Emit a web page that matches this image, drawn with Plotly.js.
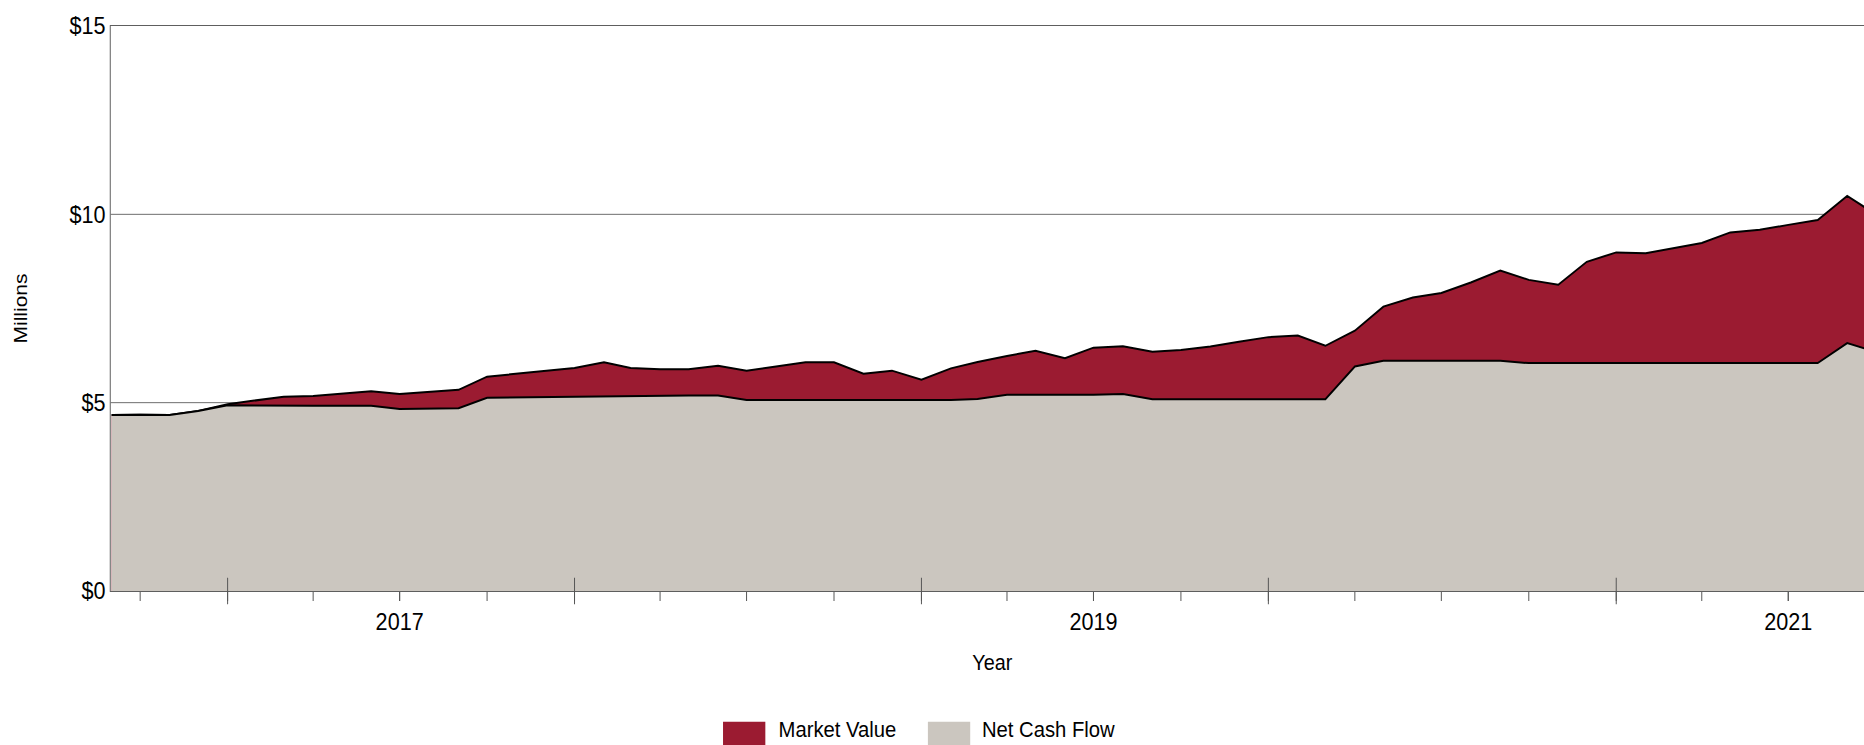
<!DOCTYPE html>
<html><head><meta charset="utf-8">
<script src="https://cdn.plot.ly/plotly-3.0.1.min.js"></script>
<style>
html,body{margin:0;padding:0;overflow:hidden;background:#fff;width:1864px;height:745px}
#chart{width:2082px;height:745px;transform:scaleX(0.9);transform-origin:0 0;}
</style></head><body><div id="chart"></div><script>
const months = [
 '2016-09-01','2016-10-01','2016-11-01','2016-12-01',
 '2017-01-01','2017-02-01','2017-03-01','2017-04-01','2017-05-01','2017-06-01','2017-07-01','2017-08-01','2017-09-01','2017-10-01','2017-11-01','2017-12-01',
 '2018-01-01','2018-02-01','2018-03-01','2018-04-01','2018-05-01','2018-06-01','2018-07-01','2018-08-01','2018-09-01','2018-10-01','2018-11-01','2018-12-01',
 '2019-01-01','2019-02-01','2019-03-01','2019-04-01','2019-05-01','2019-06-01','2019-07-01','2019-08-01','2019-09-01','2019-10-01','2019-11-01','2019-12-01',
 '2020-01-01','2020-02-01','2020-03-01','2020-04-01','2020-05-01','2020-06-01','2020-07-01','2020-08-01','2020-09-01','2020-10-01','2020-11-01','2020-12-01',
 '2021-01-01','2021-02-01','2021-03-01','2021-04-01','2021-05-01','2021-06-01','2021-07-01','2021-08-01','2021-09-01','2021-10-01'
];
const marketValue = [
 4.67,4.68,4.67,4.78,
 4.96,5.07,5.16,5.18,5.23,5.30,5.23,5.29,5.34,5.69,5.77,5.85,
 5.92,6.07,5.92,5.89,5.89,5.98,5.85,5.96,6.07,6.07,5.77,5.85,
 5.61,5.91,6.08,6.24,6.38,6.18,6.46,6.50,6.35,6.40,6.49,6.62,
 6.74,6.78,6.51,6.91,7.55,7.79,7.91,8.19,8.51,8.26,8.13,8.74,
 8.99,8.97,9.10,9.24,9.52,9.59,9.72,9.85,10.49,10.00
];
const netCashFlow = [
 4.67,4.68,4.67,4.78,
 4.93,4.92,4.92,4.92,4.92,4.92,4.83,4.83,4.85,5.13,5.14,5.15,
 5.17,5.17,5.19,5.19,5.19,5.19,5.07,5.07,5.07,5.07,5.07,5.07,
 5.07,5.07,5.10,5.21,5.21,5.21,5.21,5.23,5.09,5.09,5.09,5.09,
 5.09,5.09,5.09,5.96,6.11,6.11,6.11,6.11,6.11,6.05,6.05,6.05,
 6.05,6.05,6.05,6.05,6.05,6.05,6.05,6.05,6.58,6.35
];
const seriesNames = ['Market Value','Net Cash Flow'];
const seriesColors = ['#9B1B31','#CBC6BF'];
const yTickVals = [0,5,10,15];
const yTickText = ['$0','$5','$10','$15'];
const xTickVals = ['2017-07-01','2019-07-01','2021-07-01'];
const xTickText = ['2017','2019','2021'];
const yearStarts = ['2017-01-01','2018-01-01','2019-01-01','2020-01-01','2021-01-01'];

const FONT = '"Liberation Sans", Arial, Helvetica, sans-serif';
const AX = '#555555';

const traces = [marketValue, netCashFlow].map((vals, i) => ({
  type: 'scatter', mode: 'lines', x: months, y: vals, name: seriesNames[i],
  fill: 'tozeroy', fillcolor: seriesColors[i],
  line: {color: '#000000', width: 2}, showlegend: false, hoverinfo: 'skip'
}));

const shapes = yearStarts.map(d => ({
  type: 'line', xref: 'x', yref: 'paper', x0: d, x1: d, y0: -0.0236, y1: 0.0236,
  line: {color: AX, width: 1.1}, layer: 'above'
}));
const legendBoxes = [[0.3473, 0.3713], [0.4635, 0.4875]];
const legendTextX = [0.3775, 0.4932];
const annotations = [];
seriesNames.forEach((n, i) => {
  shapes.push({type: 'rect', xref: 'paper', yref: 'paper',
    x0: legendBoxes[i][0], x1: legendBoxes[i][1], y0: -0.2315, y1: -0.30,
    fillcolor: seriesColors[i], line: {width: 0}});
  annotations.push({xref: 'paper', yref: 'paper', x: legendTextX[i], y: -0.2444,
    xanchor: 'left', yanchor: 'middle', showarrow: false, text: n,
    font: {family: FONT, size: 22.5, color: '#000'}});
});

const layout = {
  width: 2082, height: 745,
  margin: {l: 123, r: 0, t: 26, b: 154},
  paper_bgcolor: '#ffffff', plot_bgcolor: '#ffffff',
  showlegend: false,
  font: {family: FONT, color: '#000000'},
  xaxis: {
    type: 'date', range: ['2016-08-31', '2021-09-29'],
    tickmode: 'array', tickvals: xTickVals, ticktext: xTickText,
    ticks: 'outside', ticklen: 9, tickwidth: 1.1, tickcolor: AX,
    tickfont: {family: FONT, size: 24, color: '#000'},
    showgrid: false, zeroline: false, showline: true, mirror: true, linecolor: AX, linewidth: 1,
    minor: {dtick: 'M3', tick0: '2016-01-01', ticks: 'outside', ticklen: 9, tickwidth: 1.1, tickcolor: AX, showgrid: false},
    title: {text: 'Year', font: {family: FONT, size: 22, color: '#000'}, standoff: 20},
    automargin: false, fixedrange: true
  },
  yaxis: {
    range: [0, 15], tickmode: 'array', tickvals: yTickVals, ticktext: yTickText,
    ticks: '', tickfont: {family: FONT, size: 24, color: '#000'},
    showgrid: true, gridcolor: '#666666', gridwidth: 1,
    zeroline: false, showline: true, linecolor: AX, linewidth: 1,
    title: {text: 'Millions', font: {family: FONT, size: 21, color: '#000'}, standoff: 40},
    automargin: false, fixedrange: true
  },
  shapes: shapes,
  annotations: annotations
};

Plotly.newPlot('chart', traces, layout, {staticPlot: true, displayModeBar: false});
</script></body></html>
